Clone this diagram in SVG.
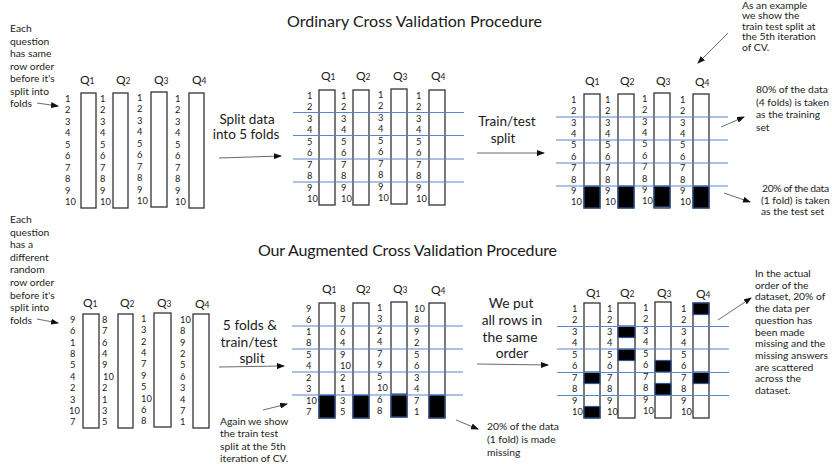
<svg xmlns="http://www.w3.org/2000/svg" width="832" height="464" viewBox="0 0 832 464">
<style>
text{font-family:Lato,"Liberation Sans",Arial,sans-serif;fill:#1a1a1a}
.t{font-size:16px}
.l{font-size:13.5px}
.m{font-size:13.8px}
.a{font-size:10.3px;fill:#222}
.n{font-size:9.3px}
.q{font-size:12px}
.qs{font-size:8.5px}
.box{fill:#fff;stroke:#333;stroke-width:1.3}
.blk{fill:#000;stroke:#2F5597;stroke-width:1.2}
.fold{stroke:#5B84CC;stroke-width:1.2}
.arr{stroke:#444;stroke-width:0.8;fill:none;marker-end:url(#ah)}
</style>
<defs>
<marker id="ah" markerWidth="8" markerHeight="6" refX="7" refY="3" orient="auto" markerUnits="userSpaceOnUse">
<path d="M0,0 L8,3 L0,6 Z" fill="#111"/>
</marker>
</defs>
<rect width="832" height="464" fill="#fff"/>

<g id="titles">
<text class="t" x="287" y="27" textLength="255">Ordinary Cross Validation Procedure</text>
<text class="t" x="258" y="256" textLength="299">Our Augmented Cross Validation Procedure</text>
</g>

<!-- Top-left panel -->
<g id="tl-labels">
<text class="q" x="80" y="84">Q<tspan class="qs">1</tspan></text>
<text class="q" x="116" y="84">Q<tspan class="qs">2</tspan></text>
<text class="q" x="154" y="84">Q<tspan class="qs">3</tspan></text>
<text class="q" x="192" y="84">Q<tspan class="qs">4</tspan></text>
</g>
<g id="tl-q1"><rect class="box" x="81" y="93" width="15" height="115"/>
<text class="n" x="65" y="101.8"><tspan x="65">1</tspan><tspan x="65" dy="11.5">2</tspan><tspan x="65" dy="11.5">3</tspan><tspan x="65" dy="11.5">4</tspan><tspan x="65" dy="11.5">5</tspan><tspan x="65" dy="11.5">6</tspan><tspan x="65" dy="11.5">7</tspan><tspan x="65" dy="11.5">8</tspan><tspan x="65" dy="11.5">9</tspan><tspan x="65" dy="11.5">10</tspan></text></g>
<g id="tl-q2"><rect class="box" x="113" y="93" width="15" height="115"/>
<text class="n" x="100" y="101.8"><tspan x="100">1</tspan><tspan x="100" dy="11.5">2</tspan><tspan x="100" dy="11.5">3</tspan><tspan x="100" dy="11.5">4</tspan><tspan x="100" dy="11.5">5</tspan><tspan x="100" dy="11.5">6</tspan><tspan x="100" dy="11.5">7</tspan><tspan x="100" dy="11.5">8</tspan><tspan x="100" dy="11.5">9</tspan><tspan x="100" dy="11.5">10</tspan></text></g>
<g id="tl-q3"><rect class="box" x="151" y="92" width="16" height="115"/>
<text class="n" x="137" y="100.8"><tspan x="137">1</tspan><tspan x="137" dy="11.5">2</tspan><tspan x="137" dy="11.5">3</tspan><tspan x="137" dy="11.5">4</tspan><tspan x="137" dy="11.5">5</tspan><tspan x="137" dy="11.5">6</tspan><tspan x="137" dy="11.5">7</tspan><tspan x="137" dy="11.5">8</tspan><tspan x="137" dy="11.5">9</tspan><tspan x="137" dy="11.5">10</tspan></text></g>
<g id="tl-q4"><rect class="box" x="189" y="93" width="15" height="115"/>
<text class="n" x="175" y="101.8"><tspan x="175">1</tspan><tspan x="175" dy="11.5">2</tspan><tspan x="175" dy="11.5">3</tspan><tspan x="175" dy="11.5">4</tspan><tspan x="175" dy="11.5">5</tspan><tspan x="175" dy="11.5">6</tspan><tspan x="175" dy="11.5">7</tspan><tspan x="175" dy="11.5">8</tspan><tspan x="175" dy="11.5">9</tspan><tspan x="175" dy="11.5">10</tspan></text></g>

<g id="tl-note"><text class="a" x="10" y="32"><tspan x="10">Each</tspan><tspan x="10" dy="12.5">question</tspan><tspan x="10" dy="12.5">has same</tspan><tspan x="10" dy="12.5">row order</tspan><tspan x="10" dy="12.5">before it's</tspan><tspan x="10" dy="12.5">split into</tspan><tspan x="10" dy="12.5">folds</tspan></text></g>

<g id="split-label"><text class="l" text-anchor="middle"><tspan x="247" y="124">Split data</tspan><tspan x="246" y="139">into 5 folds</tspan></text></g>

<!-- Top-middle panel -->
<g id="tm-labels">
<text class="q" x="321" y="80">Q<tspan class="qs">1</tspan></text>
<text class="q" x="356" y="80">Q<tspan class="qs">2</tspan></text>
<text class="q" x="393" y="80">Q<tspan class="qs">3</tspan></text>
<text class="q" x="431" y="80">Q<tspan class="qs">4</tspan></text>
</g>
<g id="tm-q1"><rect class="box" x="319" y="90" width="16" height="115"/>
<text class="n" x="307" y="98.8"><tspan x="307">1</tspan><tspan x="307" dy="11.5">2</tspan><tspan x="307" dy="11.5">3</tspan><tspan x="307" dy="11.5">4</tspan><tspan x="307" dy="11.5">5</tspan><tspan x="307" dy="11.5">6</tspan><tspan x="307" dy="11.5">7</tspan><tspan x="307" dy="11.5">8</tspan><tspan x="307" dy="11.5">9</tspan><tspan x="307" dy="11.5">10</tspan></text></g>
<g id="tm-q2"><rect class="box" x="353" y="90" width="16" height="115"/>
<text class="n" x="341" y="98.8"><tspan x="341">1</tspan><tspan x="341" dy="11.5">2</tspan><tspan x="341" dy="11.5">3</tspan><tspan x="341" dy="11.5">4</tspan><tspan x="341" dy="11.5">5</tspan><tspan x="341" dy="11.5">6</tspan><tspan x="341" dy="11.5">7</tspan><tspan x="341" dy="11.5">8</tspan><tspan x="341" dy="11.5">9</tspan><tspan x="341" dy="11.5">10</tspan></text></g>
<g id="tm-q3"><rect class="box" x="391" y="89" width="16" height="115"/>
<text class="n" x="378" y="97.8"><tspan x="378">1</tspan><tspan x="378" dy="11.5">2</tspan><tspan x="378" dy="11.5">3</tspan><tspan x="378" dy="11.5">4</tspan><tspan x="378" dy="11.5">5</tspan><tspan x="378" dy="11.5">6</tspan><tspan x="378" dy="11.5">7</tspan><tspan x="378" dy="11.5">8</tspan><tspan x="378" dy="11.5">9</tspan><tspan x="378" dy="11.5">10</tspan></text></g>
<g id="tm-q4"><rect class="box" x="429" y="90" width="16" height="115"/>
<text class="n" x="416" y="98.8"><tspan x="416">1</tspan><tspan x="416" dy="11.5">2</tspan><tspan x="416" dy="11.5">3</tspan><tspan x="416" dy="11.5">4</tspan><tspan x="416" dy="11.5">5</tspan><tspan x="416" dy="11.5">6</tspan><tspan x="416" dy="11.5">7</tspan><tspan x="416" dy="11.5">8</tspan><tspan x="416" dy="11.5">9</tspan><tspan x="416" dy="11.5">10</tspan></text></g>
<g id="tm-folds">
<line class="fold" x1="293" y1="112.5" x2="464" y2="112.5"/>
<line class="fold" x1="293" y1="135.5" x2="464" y2="135.5"/>
<line class="fold" x1="293" y1="159" x2="464" y2="159"/>
<line class="fold" x1="293" y1="182" x2="464" y2="182"/>
</g>

<g id="tt-label"><text class="l" text-anchor="middle"><tspan x="507" y="126">Train/test</tspan><tspan x="503" y="143">split</tspan></text></g>

<!-- Top-right panel -->
<g id="tr-labels">
<text class="q" x="585" y="85">Q<tspan class="qs">1</tspan></text>
<text class="q" x="620" y="85">Q<tspan class="qs">2</tspan></text>
<text class="q" x="656" y="85">Q<tspan class="qs">3</tspan></text>
<text class="q" x="695" y="86">Q<tspan class="qs">4</tspan></text>
</g>
<g id="tr-q1"><rect class="box" x="584" y="94" width="16" height="114"/><rect class="blk" x="584" y="186" width="16" height="22"/>
<text class="n" x="571" y="102.7"><tspan x="571">1</tspan><tspan x="571" dy="11.4">2</tspan><tspan x="571" dy="11.4">3</tspan><tspan x="571" dy="11.4">4</tspan><tspan x="571" dy="11.4">5</tspan><tspan x="571" dy="11.4">6</tspan><tspan x="571" dy="11.4">7</tspan><tspan x="571" dy="11.4">8</tspan><tspan x="571" dy="11.4">9</tspan><tspan x="571" dy="11.4">10</tspan></text></g>
<g id="tr-q2"><rect class="box" x="618" y="94" width="16" height="114"/><rect class="blk" x="618" y="186" width="16" height="22"/>
<text class="n" x="605" y="102.7"><tspan x="605">1</tspan><tspan x="605" dy="11.4">2</tspan><tspan x="605" dy="11.4">3</tspan><tspan x="605" dy="11.4">4</tspan><tspan x="605" dy="11.4">5</tspan><tspan x="605" dy="11.4">6</tspan><tspan x="605" dy="11.4">7</tspan><tspan x="605" dy="11.4">8</tspan><tspan x="605" dy="11.4">9</tspan><tspan x="605" dy="11.4">10</tspan></text></g>
<g id="tr-q3"><rect class="box" x="654" y="93" width="16" height="115"/><rect class="blk" x="654" y="186" width="16" height="21"/>
<text class="n" x="642" y="101.7"><tspan x="642">1</tspan><tspan x="642" dy="11.4">2</tspan><tspan x="642" dy="11.4">3</tspan><tspan x="642" dy="11.4">4</tspan><tspan x="642" dy="11.4">5</tspan><tspan x="642" dy="11.4">6</tspan><tspan x="642" dy="11.4">7</tspan><tspan x="642" dy="11.4">8</tspan><tspan x="642" dy="11.4">9</tspan><tspan x="642" dy="11.4">10</tspan></text></g>
<g id="tr-q4"><rect class="box" x="693" y="94" width="16" height="114"/><rect class="blk" x="693" y="186" width="16" height="22"/>
<text class="n" x="680" y="102.7"><tspan x="680">1</tspan><tspan x="680" dy="11.4">2</tspan><tspan x="680" dy="11.4">3</tspan><tspan x="680" dy="11.4">4</tspan><tspan x="680" dy="11.4">5</tspan><tspan x="680" dy="11.4">6</tspan><tspan x="680" dy="11.4">7</tspan><tspan x="680" dy="11.4">8</tspan><tspan x="680" dy="11.4">9</tspan><tspan x="680" dy="11.4">10</tspan></text></g>
<g id="tr-folds">
<line class="fold" x1="556" y1="117" x2="728" y2="117"/>
<line class="fold" x1="556" y1="140" x2="728" y2="140"/>
<line class="fold" x1="556" y1="163" x2="728" y2="163"/>
<line class="fold" x1="556" y1="186" x2="728" y2="186"/>
</g>

<g id="tr-note1"><text class="a" x="742" y="9"><tspan x="742">As an example</tspan><tspan x="742" dy="10.4">we show the</tspan><tspan x="742" dy="10.4">train test split at</tspan><tspan x="742" dy="10.4">the 5th iteration</tspan><tspan x="742" dy="10.4">of CV.</tspan></text></g>
<g id="tr-note2"><text class="a" x="756" y="93"><tspan x="756">80% of the data</tspan><tspan x="756" dy="12.7">(4 folds) is taken</tspan><tspan x="756" dy="12.7">as the training</tspan><tspan x="756" dy="12.7">set</tspan></text></g>
<g id="tr-note3"><text class="a" x="762" y="192"><tspan x="762" textLength="67">20% of the data</tspan><tspan x="761" dy="11.7">(1 fold) is taken</tspan><tspan x="761" dy="11.7">as the test set</tspan></text></g>

<!-- Bottom-left panel -->
<g id="bl-labels">
<text class="q" x="83" y="307">Q<tspan class="qs">1</tspan></text>
<text class="q" x="120" y="307">Q<tspan class="qs">2</tspan></text>
<text class="q" x="157" y="307">Q<tspan class="qs">3</tspan></text>
<text class="q" x="195" y="308">Q<tspan class="qs">4</tspan></text>
</g>
<g id="bl-q1"><rect class="box" x="83" y="314" width="16" height="114"/>
<text class="n" x="69" y="322.7"><tspan x="70">9</tspan><tspan x="70" dy="11.4">6</tspan><tspan x="70" dy="11.4">1</tspan><tspan x="70" dy="11.4">8</tspan><tspan x="70" dy="11.4">5</tspan><tspan x="70" dy="11.4">4</tspan><tspan x="70" dy="11.4">2</tspan><tspan x="70" dy="11.4">3</tspan><tspan x="69" dy="11.4">10</tspan><tspan x="70" dy="11.4">7</tspan></text></g>
<g id="bl-q2"><rect class="box" x="118" y="314" width="15" height="114"/>
<text class="n" x="102" y="322.7"><tspan x="102">8</tspan><tspan x="102" dy="11.4">7</tspan><tspan x="102" dy="11.4">6</tspan><tspan x="102" dy="11.4">4</tspan><tspan x="102" dy="11.4">9</tspan><tspan x="103" dy="11.4">10</tspan><tspan x="102" dy="11.4">2</tspan><tspan x="102" dy="11.4">1</tspan><tspan x="102" dy="11.4">3</tspan><tspan x="102" dy="11.4">5</tspan></text></g>
<g id="bl-q3"><rect class="box" x="154" y="313" width="17" height="114"/>
<text class="n" x="141" y="321.7"><tspan x="141">1</tspan><tspan x="141" dy="11.4">3</tspan><tspan x="141" dy="11.4">2</tspan><tspan x="141" dy="11.4">4</tspan><tspan x="141" dy="11.4">7</tspan><tspan x="141" dy="11.4">9</tspan><tspan x="141" dy="11.4">5</tspan><tspan x="141" dy="11.4">10</tspan><tspan x="141" dy="11.4">6</tspan><tspan x="141" dy="11.4">8</tspan></text></g>
<g id="bl-q4"><rect class="box" x="193" y="314" width="16" height="114"/>
<text class="n" x="180" y="322.7"><tspan x="180">10</tspan><tspan x="180" dy="11.4">8</tspan><tspan x="180" dy="11.4">9</tspan><tspan x="180" dy="11.4">2</tspan><tspan x="180" dy="11.4">5</tspan><tspan x="180" dy="11.4">6</tspan><tspan x="180" dy="11.4">3</tspan><tspan x="180" dy="11.4">4</tspan><tspan x="180" dy="11.4">7</tspan><tspan x="180" dy="11.4">1</tspan></text></g>

<g id="bl-note"><text class="a" x="10" y="223"><tspan x="10">Each</tspan><tspan x="10" dy="12.6">question</tspan><tspan x="10" dy="12.6">has a</tspan><tspan x="10" dy="12.6">different</tspan><tspan x="10" dy="12.6">random</tspan><tspan x="10" dy="12.6">row order</tspan><tspan x="10" dy="12.6">before it's</tspan><tspan x="10" dy="12.6">split into</tspan><tspan x="10" dy="12.6">folds</tspan></text></g>

<g id="ft-label"><text class="m" text-anchor="middle"><tspan x="250" y="330">5 folds &amp;</tspan><tspan x="249" y="347">train/test</tspan><tspan x="252" y="363">split</tspan></text></g>
<g id="bm-note"><text class="a" x="220" y="425"><tspan x="220">Again we show</tspan><tspan x="220" dy="12.4">the train test</tspan><tspan x="220" dy="12.4">split at the 5th</tspan><tspan x="220" dy="12.4">iteration of CV.</tspan></text></g>

<!-- Bottom-middle panel -->
<g id="bm-labels">
<text class="q" x="322" y="293">Q<tspan class="qs">1</tspan></text>
<text class="q" x="356" y="293">Q<tspan class="qs">2</tspan></text>
<text class="q" x="393" y="293">Q<tspan class="qs">3</tspan></text>
<text class="q" x="431" y="294">Q<tspan class="qs">4</tspan></text>
</g>
<g id="bm-q1"><rect class="box" x="319" y="303" width="16" height="115"/><rect class="blk" x="319" y="395" width="16" height="23"/>
<text class="n" y="311.8"><tspan x="306">9</tspan><tspan x="306" dy="11.5">6</tspan><tspan x="306" dy="11.5">1</tspan><tspan x="306" dy="11.5">8</tspan><tspan x="306" dy="11.5">5</tspan><tspan x="306" dy="11.5">4</tspan><tspan x="306" dy="11.5">2</tspan><tspan x="306" dy="11.5">3</tspan><tspan x="306" dy="11.5">10</tspan><tspan x="306" dy="11.5">7</tspan></text></g>
<g id="bm-q2"><rect class="box" x="353" y="303" width="16" height="115"/><rect class="blk" x="353" y="395" width="16" height="23"/>
<text class="n" y="311.8"><tspan x="340">8</tspan><tspan x="340" dy="11.5">7</tspan><tspan x="340" dy="11.5">6</tspan><tspan x="340" dy="11.5">4</tspan><tspan x="340" dy="11.5">9</tspan><tspan x="340" dy="11.5">10</tspan><tspan x="340" dy="11.5">2</tspan><tspan x="340" dy="11.5">1</tspan><tspan x="340" dy="11.5">3</tspan><tspan x="340" dy="11.5">5</tspan></text></g>
<g id="bm-q3"><rect class="box" x="391" y="302" width="16" height="115"/><rect class="blk" x="391" y="394" width="16" height="23"/>
<text class="n" y="310.8"><tspan x="377">1</tspan><tspan x="377" dy="11.5">3</tspan><tspan x="377" dy="11.5">2</tspan><tspan x="377" dy="11.5">4</tspan><tspan x="377" dy="11.5">7</tspan><tspan x="377" dy="11.5">9</tspan><tspan x="377" dy="11.5">5</tspan><tspan x="377" dy="11.5">10</tspan><tspan x="377" dy="11.5">6</tspan><tspan x="377" dy="11.5">8</tspan></text></g>
<g id="bm-q4"><rect class="box" x="429" y="303" width="16" height="115"/><rect class="blk" x="429" y="395" width="16" height="23"/>
<text class="n" y="311.8"><tspan x="414">10</tspan><tspan x="414" dy="11.5">8</tspan><tspan x="414" dy="11.5">9</tspan><tspan x="414" dy="11.5">2</tspan><tspan x="414" dy="11.5">5</tspan><tspan x="414" dy="11.5">6</tspan><tspan x="414" dy="11.5">3</tspan><tspan x="414" dy="11.5">4</tspan><tspan x="414" dy="11.5">7</tspan><tspan x="414" dy="11.5">1</tspan></text></g>
<g id="bm-folds">
<line class="fold" x1="292" y1="326" x2="463" y2="326"/>
<line class="fold" x1="292" y1="349" x2="463" y2="349"/>
<line class="fold" x1="292" y1="372" x2="463" y2="372"/>
<line class="fold" x1="292" y1="395" x2="463" y2="395"/>
</g>

<g id="order-label"><text class="m" text-anchor="middle"><tspan x="511" y="308">We put</tspan><tspan x="512" y="325">all rows in</tspan><tspan x="510" y="342">the same</tspan><tspan x="512" y="358">order</tspan></text></g>
<g id="bm-note2"><text class="a" x="487" y="430"><tspan x="487">20% of the data</tspan><tspan x="487" dy="12.8">(1 fold) is made</tspan><tspan x="487" dy="12.8">missing</tspan></text></g>

<!-- Bottom-right panel -->
<g id="br-labels">
<text class="q" x="586" y="297">Q<tspan class="qs">1</tspan></text>
<text class="q" x="620" y="297">Q<tspan class="qs">2</tspan></text>
<text class="q" x="657" y="297">Q<tspan class="qs">3</tspan></text>
<text class="q" x="696" y="298">Q<tspan class="qs">4</tspan></text>
</g>
<g id="br-q1"><rect class="box" x="584" y="303" width="16" height="115"/><rect class="blk" x="584" y="372" width="16" height="11.5"/><rect class="blk" x="584" y="406.5" width="16" height="11.5"/>
<text class="n" y="311.8"><tspan x="572">1</tspan><tspan x="572" dy="11.5">2</tspan><tspan x="572" dy="11.5">3</tspan><tspan x="572" dy="11.5">4</tspan><tspan x="572" dy="11.5">5</tspan><tspan x="572" dy="11.5">6</tspan><tspan x="572" dy="11.5">7</tspan><tspan x="572" dy="11.5">8</tspan><tspan x="572" dy="11.5">9</tspan><tspan x="572" dy="11.5">10</tspan></text></g>
<g id="br-q2"><rect class="box" x="618" y="303" width="17" height="115"/><rect class="blk" x="618" y="326" width="17" height="11.5"/><rect class="blk" x="618" y="349" width="17" height="11.5"/>
<text class="n" y="311.8"><tspan x="607">1</tspan><tspan x="607" dy="11.5">2</tspan><tspan x="607" dy="11.5">3</tspan><tspan x="607" dy="11.5">4</tspan><tspan x="607" dy="11.5">5</tspan><tspan x="607" dy="11.5">6</tspan><tspan x="607" dy="11.5">7</tspan><tspan x="607" dy="11.5">8</tspan><tspan x="607" dy="11.5">9</tspan><tspan x="607" dy="11.5">10</tspan></text></g>
<g id="br-q3"><rect class="box" x="655" y="302" width="16" height="116"/><rect class="blk" x="655" y="360.5" width="16" height="11.5"/><rect class="blk" x="655" y="383.5" width="16" height="11.5"/>
<text class="n" y="310.8"><tspan x="643">1</tspan><tspan x="643" dy="11.5">2</tspan><tspan x="643" dy="11.5">3</tspan><tspan x="643" dy="11.5">4</tspan><tspan x="643" dy="11.5">5</tspan><tspan x="643" dy="11.5">6</tspan><tspan x="643" dy="11.5">7</tspan><tspan x="643" dy="11.5">8</tspan><tspan x="643" dy="11.5">9</tspan><tspan x="643" dy="11.5">10</tspan></text></g>
<g id="br-q4"><rect class="box" x="693" y="303" width="16" height="115"/><rect class="blk" x="693" y="303" width="16" height="11.5"/><rect class="blk" x="693" y="372" width="16" height="11.5"/>
<text class="n" y="311.8"><tspan x="681">1</tspan><tspan x="681" dy="11.5">2</tspan><tspan x="681" dy="11.5">3</tspan><tspan x="681" dy="11.5">4</tspan><tspan x="681" dy="11.5">5</tspan><tspan x="681" dy="11.5">6</tspan><tspan x="681" dy="11.5">7</tspan><tspan x="681" dy="11.5">8</tspan><tspan x="681" dy="11.5">9</tspan><tspan x="681" dy="11.5">10</tspan></text></g>
<g id="br-folds">
<line class="fold" x1="557" y1="326.5" x2="729" y2="326.5"/>
<line class="fold" x1="557" y1="349" x2="729" y2="349"/>
<line class="fold" x1="557" y1="372.5" x2="729" y2="372.5"/>
<line class="fold" x1="557" y1="395.5" x2="729" y2="395.5"/>
</g>

<g id="br-note"><text class="a" x="755" y="277"><tspan x="755">In the actual</tspan><tspan x="755" dy="11.7">order of the</tspan><tspan x="755" dy="11.7">dataset, 20% of</tspan><tspan x="755" dy="11.7">the data per</tspan><tspan x="755" dy="11.7">question has</tspan><tspan x="755" dy="11.7">been made</tspan><tspan x="755" dy="11.7">missing and the</tspan><tspan x="755" dy="11.7">missing answers</tspan><tspan x="755" dy="11.7">are scattered</tspan><tspan x="755" dy="11.7">across the</tspan><tspan x="755" dy="11.7">dataset.</tspan></text></g>

<g id="connectors">
<line class="arr" x1="37" y1="103" x2="58" y2="106"/>
<line class="arr" x1="219" y1="158" x2="281" y2="156"/>
<line class="arr" x1="477" y1="153" x2="544" y2="153"/>
<line class="arr" x1="728" y1="33" x2="698" y2="63"/>
<line class="arr" x1="721" y1="127" x2="744" y2="117"/>
<line class="arr" x1="724" y1="193" x2="750" y2="202"/>
<line class="arr" x1="37" y1="319" x2="58" y2="323"/>
<line class="arr" x1="219" y1="367" x2="284" y2="366"/>
<line class="arr" x1="263" y1="410" x2="287" y2="404"/>
<line class="arr" x1="477" y1="364" x2="548" y2="365"/>
<line class="arr" x1="456" y1="420" x2="478" y2="429"/>
<line class="arr" x1="718" y1="320" x2="751" y2="298"/>
</g>
</svg>
